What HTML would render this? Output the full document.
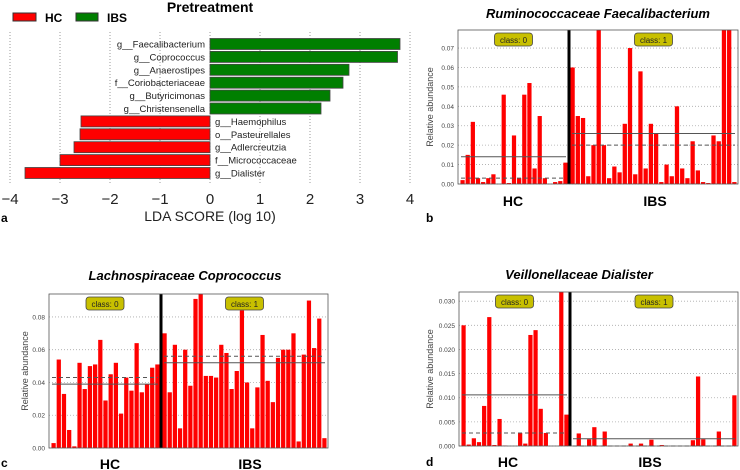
<!DOCTYPE html>
<html><head><meta charset="utf-8"><style>
html,body{margin:0;padding:0;background:#fff;}
svg{display:block;font-family:"Liberation Sans","DejaVu Sans",sans-serif;}
</style></head><body>
<svg id="fig" width="740" height="470" viewBox="0 0 740 470" xmlns="http://www.w3.org/2000/svg"></svg>
<script>
// Panel a data
const ldaTaxa = ["g__Faecalibacterium","g__Coprococcus","g__Anaerostipes","f__Coriobacteriaceae","g__Butyricimonas","g__Christensenella","g__Haemophilus","o__Pasteurellales","g__Adlercreutzia","f__Micrococcaceae","g__Dialister"];
const ldaScores = [3.8,3.75,2.78,2.66,2.4,2.22,-2.58,-2.6,-2.72,-3.0,-3.7];
const ldaTicks = [-4,-3,-2,-1,0,1,2,3,4];
// Panel b
const bHC = [0.002,0.015,0.032,0.003,0.001,0.003,0.005,0.0,0.046,0.0005,0.025,0.003,0.046,0.052,0.008,0.035,0.003,0.0,0.001,0.0015,0.011];
const bIBS = [0.060,0.035,0.034,0.004,0.020,0.085,0.020,0.003,0.009,0.006,0.031,0.070,0.005,0.058,0.008,0.031,0.026,0.001,0.010,0.004,0.040,0.008,0.003,0.022,0.007,0.001,0.0005,0.025,0.022,0.085,0.085,0.001];
const bTicks = [0,0.01,0.02,0.03,0.04,0.05,0.06,0.07];
const bLines = [0.014,0.003,0.026,0.020]; // HC mean, HC median, IBS mean, IBS median
// Panel c
const cHC = [0.003,0.054,0.033,0.011,0.001,0.052,0.036,0.050,0.051,0.066,0.029,0.045,0.052,0.021,0.043,0.035,0.064,0.034,0.039,0.049,0.051];
const cIBS = [0.070,0.034,0.063,0.012,0.060,0.038,0.091,0.095,0.044,0.044,0.043,0.063,0.058,0.036,0.047,0.084,0.040,0.012,0.037,0.069,0.041,0.028,0.055,0.060,0.060,0.070,0.004,0.057,0.090,0.061,0.079,0.006];
const cTicks = [0,0.02,0.04,0.06,0.08];
const cLines = [0.039,0.043,0.052,0.056];
// Panel d
const dHC = [0.025,0.0003,0.0016,0.0008,0.0083,0.0267,0.0002,0.0056,0.0001,0,0,0.0027,0.0005,0.023,0.024,0.0077,0.0027,0,0,0.035,0.0065];
const dIBS = [0,0.0026,0,0.0014,0.0039,0,0.003,0,0,0,0,0.0005,0,0.0005,0,0.0013,0,0.0002,0,0,0,0,0,0.0012,0.0144,0.0014,0,0,0.003,0,0,0.0105];
const dTicks = [0,0.005,0.010,0.015,0.020,0.025,0.030];
const dLines = [0.0106,0.0027,0.0015,0.0];

const NS="http://www.w3.org/2000/svg";
const svg=document.getElementById('fig');
function mk(tag,attrs,parent,text){const e=document.createElementNS(NS,tag);for(const k in attrs)e.setAttribute(k,attrs[k]);if(text!==undefined)e.textContent=text;(parent||svg).appendChild(e);return e;}

// ---------- Panel a ----------
(function(){
  const g=mk('g',{});
  
  
  const x0=210, unit=50, top=32, bot=184, y0=44, pitch=12.9, bh=11;
  const X=v=>x0+v*unit;
  const t=mk('text',{x:210,y:12,'font-size':14,'font-weight':'bold','text-anchor':'middle'},g,'Pretreatment');
  
  
  const l1=mk('rect',{x:13,y:13,width:23,height:8,fill:'#ff0000',stroke:'#333','stroke-width':1},g);
  
  
  const lt1=mk('text',{x:45,y:22,'font-size':12,'font-weight':'bold'},g,'HC');
  
  
  const l2=mk('rect',{x:76,y:13,width:22,height:8,fill:'#007f00',stroke:'#333','stroke-width':1},g);
  
  
  const lt2=mk('text',{x:107,y:22,'font-size':12,'font-weight':'bold'},g,'IBS');
  
  
  ldaTicks.forEach(v=>{
    const gl=mk('line',{x1:X(v),x2:X(v),y1:top,y2:bot,stroke:'#999','stroke-dasharray':'1,2','stroke-width':1},g);
    
    
    const tl=mk('text',{x:X(v),y:204,'font-size':15,'text-anchor':'middle',fill:'#222'},g,(v<0?'\u2212'+(-v):String(v)));
    
    
  });
  ldaScores.forEach((v,i)=>{
    const cy=y0+i*pitch;
    const r=mk('rect',{x:Math.min(X(0),X(v)),y:cy-bh/2,width:Math.abs(X(v)-X(0)),height:bh,fill:v>0?'#007f00':'#ff0000',stroke:'#444','stroke-width':0.8},g);
    
    
    const tx=mk('text',{x:v>0?X(0)-5:X(0)+5,y:cy+3.5,'font-size':9.5,'text-anchor':v>0?'end':'start',fill:'#222'},g,ldaTaxa[i]);
    
    
  });
  const xl=mk('text',{x:210,y:221,'font-size':14,'text-anchor':'middle',fill:'#222'},g,'LDA SCORE (log 10)');
  
  
  const pl=mk('text',{x:1,y:222,'font-size':12,'font-weight':'bold'},g,'a');
  
  
})();

// ---------- abundance panels ----------
function panel(o){
  const g=mk('g',{});
  
  
  const Y=v=>o.bot-(v/o.ymax)*(o.bot-o.top);
  const t=mk('text',{x:o.tx,y:o.ty,'font-size':13,'font-weight':'bold','font-style':'italic','text-anchor':'middle'},g,o.title);
  
  
  mk('rect',{x:o.x0,y:o.top,width:o.x1-o.x0,height:o.bot-o.top,fill:'#fff'},g);
  o.ticks.forEach(v=>{
    const gl=mk('line',{x1:o.x0,x2:o.x1,y1:Y(v),y2:Y(v),stroke:'#aaa','stroke-dasharray':'1,2','stroke-width':0.8},g);
    
    
    const tl=mk('text',{x:o.x0-4,y:Y(v)+2.5,'font-size':6.5,'text-anchor':'end',fill:'#444'},g,v.toFixed(o.dec));
    
    
  });
  function group(vals,xa,xb,cls){
    const p=(xb-xa)/vals.length;
    vals.forEach((v,i)=>{
      const vv=Math.min(v,o.ymax);
      const r=mk('rect',{x:xa+i*p+p*0.09,y:Y(vv),width:p*0.82,height:Y(0)-Y(vv),fill:'#ff0000'},g);
      
      
    });
  }
  group(o.hc,o.x0+2,o.xd-1,'hc');
  group(o.ibs,o.xd+1,o.x1-1,'ibs');
  const L=o.lines;
  [[L[0],o.x0+3,o.xd-3,'none','mean-line-hc'],[L[1],o.x0+3,o.xd-3,'4,3','median-line-hc'],[L[2],o.xd+3,o.x1-3,'none','mean-line-ibs'],[L[3],o.xd+3,o.x1-3,'4,3','median-line-ibs']].forEach(a=>{
    const ln=mk('line',{x1:a[1],x2:a[2],y1:Y(a[0]),y2:Y(a[0]),stroke:'#555','stroke-width':1,'stroke-dasharray':a[3]},g);
    
    
  });
  const dv=mk('line',{x1:o.xd,x2:o.xd,y1:o.top,y2:o.bot,stroke:'#000','stroke-width':3},g);
  
  
  const fr=mk('rect',{x:o.x0,y:o.top,width:o.x1-o.x0,height:o.bot-o.top,fill:'none',stroke:'#555','stroke-width':0.8},g);
  
  
  [[(o.x0+o.xd)/2,'class: 0'],[(o.xd+o.x1)/2,'class: 1']].forEach((c,i)=>{
    const b=mk('rect',{x:c[0]-19,y:o.top+3,width:38,height:13,rx:3,fill:'#c8c000',stroke:'#444','stroke-width':0.8},g);
    
    
    const bt=mk('text',{x:c[0],y:o.top+13,'font-size':8,'text-anchor':'middle',fill:'#222'},g,c[1]);
    
    
  });
  const yl=mk('text',{x:0,y:0,'font-size':9,'text-anchor':'middle',fill:'#444',transform:`translate(${o.ylx},${(o.top+o.bot)/2}) rotate(-90)`},g,'Relative abundance');
  
  
  const h=mk('text',{x:o.hcx,y:o.gy,'font-size':14,'font-weight':'bold','text-anchor':'middle'},g,'HC');
  
  
  const ib=mk('text',{x:o.ibsx,y:o.gy,'font-size':14,'font-weight':'bold','text-anchor':'middle'},g,'IBS');
  
  
  const pl=mk('text',{x:o.plx,y:o.ply,'font-size':12,'font-weight':'bold'},g,o.id);
  
  
}
panel({id:'b',title:'Ruminococcaceae Faecalibacterium',tx:598,ty:18,x0:458,x1:738,xd:569,top:30,bot:184,ymax:0.0793,ticks:bTicks,dec:2,hc:bHC,ibs:bIBS,lines:bLines,ylx:433,hcx:513,ibsx:655,gy:206,plx:426,ply:222});
panel({id:'c',title:'Lachnospiraceae Coprococcus',tx:185,ty:280,x0:49,x1:328,xd:161,top:294,bot:448,ymax:0.094,ticks:cTicks,dec:2,hc:cHC,ibs:cIBS,lines:cLines,ylx:28,hcx:110,ibsx:250,gy:469,plx:1,ply:467});
panel({id:'d',title:'Veillonellaceae Dialister',tx:579,ty:279,x0:459,x1:738,xd:570,top:292,bot:446,ymax:0.0319,ticks:dTicks,dec:3,hc:dHC,ibs:dIBS,lines:dLines,ylx:433,hcx:508,ibsx:650,gy:467,plx:426,ply:466});
</script>
</body></html>
